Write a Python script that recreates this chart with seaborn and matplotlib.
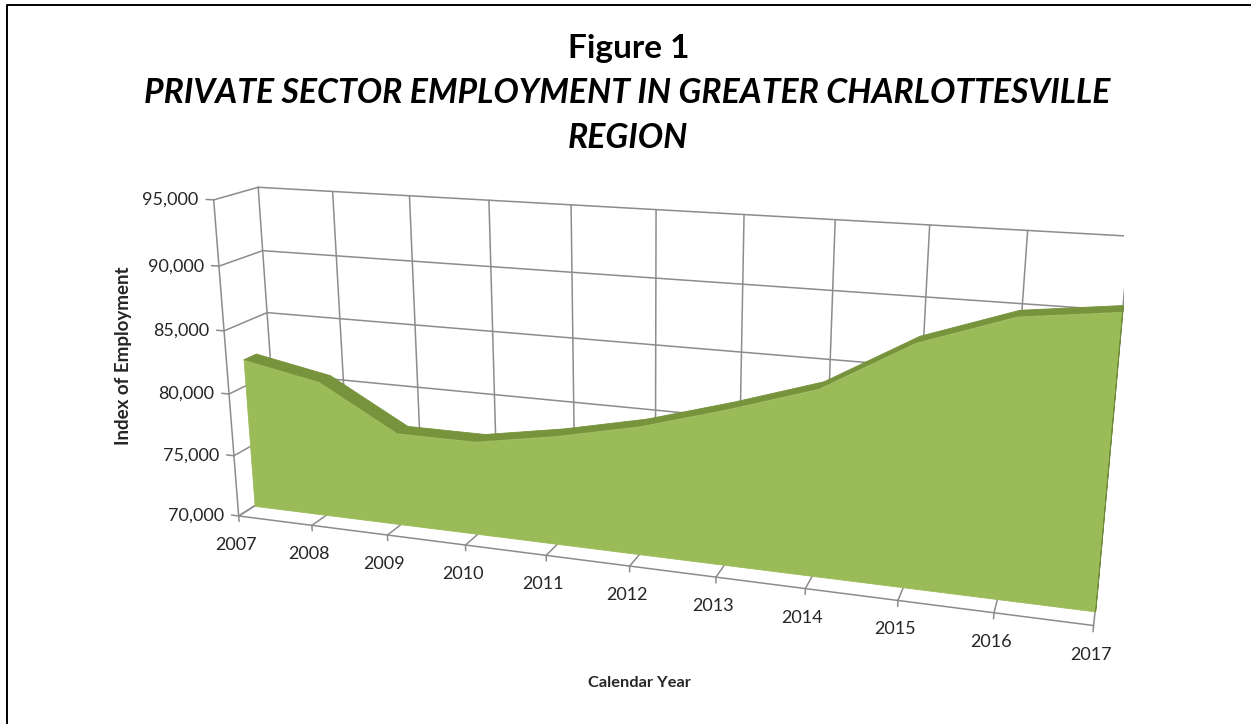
import matplotlib
matplotlib.use("Agg")
import numpy as np
import pandas as pd
import seaborn as sns
import matplotlib.pyplot as plt
import matplotlib.transforms as mtransforms
from matplotlib.lines import Line2D
from mpl_toolkits.mplot3d.art3d import Poly3DCollection

# ---- data -------------------------------------------------------------
years = [2007, 2008, 2009, 2010, 2011, 2012, 2013, 2014, 2015, 2016, 2017]
employment = [82100, 80900, 77400, 77400, 78500, 79900, 81800, 83900, 87700, 90000, 90800]
value_ticks = [70000, 75000, 80000, 85000, 90000, 95000]
value_tick_labels = ["70,000", "75,000", "80,000", "85,000", "90,000", "95,000"]
title_lines = ["Figure 1",
               "PRIVATE SECTOR EMPLOYMENT IN GREATER CHARLOTTESVILLE",
               "REGION"]
x_title = "Calendar Year"
y_title = "Index of Employment"

df = pd.DataFrame({"year": years, "employment": employment})

# ---- style ------------------------------------------------------------
sns.set_theme(style="white")
plt.rcParams["font.family"] = ["Lato", "DejaVu Sans"]

face_green, top_green, end_green = "#9BBB59", "#77933C", "#6F8A38"
grid_gray = "#8C8C8C"
text_dark = "#262626"

fig = plt.figure(figsize=(12.51, 7.24), dpi=100)

# 3-D area chart in perspective
ax = fig.add_axes([0.1074, -0.2395, 0.7914, 1.3674], projection="3d")
ax.patch.set_alpha(0)
ax.set_proj_type("persp", focal_length=0.29)
ax.view_init(elev=16.5, azim=-72)
ax.set_box_aspect((1, 0.095, 0.386), zoom=0.9504)
x0, x1 = df["year"].min(), df["year"].max()
z0, z1 = value_ticks[0], value_ticks[-1]
ax.set_xlim(x0, x1)
ax.set_ylim(0, 1)
ax.set_zlim(z0, z1)
ax.set_axis_off()
ax.computed_zorder = False

lw_grid = 1.1
# back wall grid
for z in value_ticks:
    ax.plot([x0, x1], [1, 1], [z, z], color=grid_gray, lw=lw_grid, zorder=1)
for yr in df["year"]:
    ax.plot([yr, yr], [1, 1], [z0, z1], color=grid_gray, lw=lw_grid, zorder=1)
# side wall grid
for z in value_ticks:
    ax.plot([x0, x0], [0, 1], [z, z], color=grid_gray, lw=lw_grid, zorder=1)
# floor grid
for yr in df["year"]:
    ax.plot([yr, yr], [0, 1], [z0, z0], color=grid_gray, lw=lw_grid, zorder=1)

# area series (front face, top band, end face)
y_front, y_back = 0.38, 0.68
xs = df["year"].to_numpy()
zs = df["employment"].to_numpy()
front = [(x, y_front, z) for x, z in zip(xs, zs)] + [(x1, y_front, z0), (x0, y_front, z0)]
top = [[(xs[i], y_front, zs[i]), (xs[i + 1], y_front, zs[i + 1]),
        (xs[i + 1], y_back, zs[i + 1]), (xs[i], y_back, zs[i])]
       for i in range(len(xs) - 1)]
end = [(x1, y_front, z0), (x1, y_front, zs[-1]), (x1, y_back, zs[-1]), (x1, y_back, z0)]

ax.add_collection3d(Poly3DCollection(top, facecolor=top_green, edgecolor=top_green,
                                     linewidth=0.6, zorder=2))
ax.add_collection3d(Poly3DCollection([front], facecolor=face_green, edgecolor=face_green,
                                     linewidth=0.6, zorder=3))
ax.add_collection3d(Poly3DCollection([end], facecolor=end_green, edgecolor=end_green,
                                     linewidth=0.6, zorder=4))

# axes lines and tick marks
ax.plot([x0, x1], [0, 0], [z0, z0], color=grid_gray, lw=lw_grid, zorder=5)
ax.plot([x0, x0], [0, 0], [z0, z1], color=grid_gray, lw=lw_grid, zorder=5)
for z in value_ticks:
    ax.plot([x0 - 0.1, x0], [0, 0], [z, z], color=grid_gray, lw=lw_grid, zorder=5)
for yr in df["year"]:
    ax.plot([yr, yr], [0, 0], [z0, z0 - 450], color=grid_gray, lw=lw_grid, zorder=5)

# tick labels, offset in screen space from their anchor
left_off = ax.transData + mtransforms.ScaledTranslation(-0.15, 0, fig.dpi_scale_trans)
down_off = ax.transData + mtransforms.ScaledTranslation(-0.03, -0.29, fig.dpi_scale_trans)
for z, lab in zip(value_ticks, value_tick_labels):
    ax.text(x0, 0, z, lab, ha="right", va="center", fontsize=13,
            color=text_dark, transform=left_off)
for yr in df["year"]:
    ax.text(yr, 0, z0, str(yr), ha="center", va="center", fontsize=13,
            color=text_dark, transform=down_off)

# titles
W, H = 1251, 724
fig.text(629 / W, 1 - 58 / H, title_lines[0], ha="center", va="baseline",
         fontsize=24, fontweight="bold", color="black")
fig.text(627 / W, 1 - 103 / H, title_lines[1], ha="center", va="baseline",
         fontsize=24.3, fontweight="bold", fontstyle="italic", color="black")
fig.text(628 / W, 1 - 148 / H, title_lines[2], ha="center", va="baseline",
         fontsize=24.3, fontweight="bold", fontstyle="italic", color="black")
fig.text(639 / W, 1 - 683 / H, x_title, ha="center", va="center",
         fontsize=11.8, fontweight="bold", color=text_dark)
fig.text(123 / W, 1 - 356 / H, y_title, ha="center", va="center", rotation=90,
         fontsize=13.5, fontweight="bold", color=text_dark)

# frame lines along the left and top edges
fig.add_artist(Line2D([7 / W, 7 / W, 1], [0, 1 - 5 / H, 1 - 5 / H],
                      transform=fig.transFigure, color="black", lw=1.4))

fig.savefig("out.png", dpi=100)
